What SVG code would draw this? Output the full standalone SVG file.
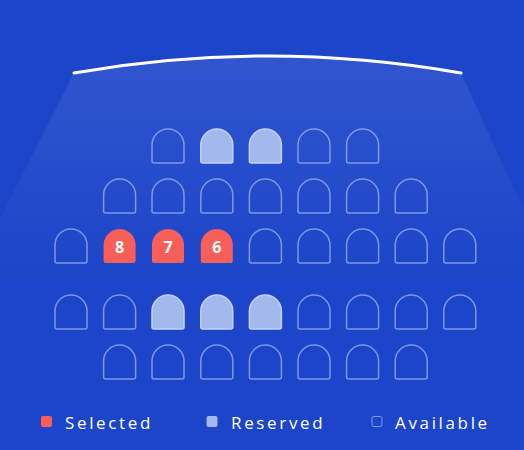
<svg xmlns="http://www.w3.org/2000/svg" width="524" height="450" viewBox="0 0 524 450">
<defs>
<linearGradient id="cone" gradientUnits="userSpaceOnUse" x1="0" y1="56" x2="0" y2="290">
<stop offset="0" stop-color="#ffffff" stop-opacity="0.09"/>
<stop offset="0.6" stop-color="#ffffff" stop-opacity="0.03"/>
<stop offset="1" stop-color="#ffffff" stop-opacity="0"/>
</linearGradient>
<path id="seat" d="M0,16 A16,16 0 0 1 32,16 V32 Q32,34 30,34 H2 Q0,34 0,32 Z"/>
</defs>
<style>
.av{fill:none;stroke:#9db3f0;stroke-opacity:0.75;stroke-width:1.5}
.rs{fill:#a3b8ec;stroke:#c3d1f5;stroke-width:1.5}
.sel{fill:#f95f59}
.num{font-family:"Open Sans","Noto Sans",sans-serif;font-weight:700;font-size:16px;fill:#ffffff;text-anchor:middle}
.lg{font-family:"Open Sans","Noto Sans",sans-serif;font-size:17px;font-weight:500;fill:#ffffff;letter-spacing:2.65px}
</style>
<rect width="524" height="450" fill="#1c45c9"/>
<path d="M74,73 Q267,39 461,73 L560,290 L-36,290 Z" fill="url(#cone)"/>
<path d="M74,73 Q267,39 461,73" fill="none" stroke="#ffffff" stroke-width="3" stroke-linecap="round"/>
<g id="row1">
<use href="#seat" x="152" y="129" class="av"/>
<use href="#seat" x="200.8" y="129" class="rs"/>
<use href="#seat" x="249.4" y="129" class="rs"/>
<use href="#seat" x="298" y="129" class="av"/>
<use href="#seat" x="346.6" y="129" class="av"/>
</g>
<g id="row2">
<use href="#seat" x="103.6" y="179" class="av"/>
<use href="#seat" x="152" y="179" class="av"/>
<use href="#seat" x="200.8" y="179" class="av"/>
<use href="#seat" x="249.4" y="179" class="av"/>
<use href="#seat" x="298" y="179" class="av"/>
<use href="#seat" x="346.6" y="179" class="av"/>
<use href="#seat" x="395.2" y="179" class="av"/>
</g>
<g id="row3">
<use href="#seat" x="55" y="229" class="av"/>
<g id="seat8"><use href="#seat" x="103.6" y="229" class="sel"/><text x="119.6" y="253" class="num">8</text></g>
<g id="seat7"><use href="#seat" x="152" y="229" class="sel"/><text x="168" y="253" class="num">7</text></g>
<g id="seat6"><use href="#seat" x="200.8" y="229" class="sel"/><text x="216.8" y="253" class="num">6</text></g>
<use href="#seat" x="249.4" y="229" class="av"/>
<use href="#seat" x="298" y="229" class="av"/>
<use href="#seat" x="346.6" y="229" class="av"/>
<use href="#seat" x="395.2" y="229" class="av"/>
<use href="#seat" x="443.8" y="229" class="av"/>
</g>
<g id="row4">
<use href="#seat" x="55" y="295" class="av"/>
<use href="#seat" x="103.6" y="295" class="av"/>
<use href="#seat" x="152" y="295" class="rs"/>
<use href="#seat" x="200.8" y="295" class="rs"/>
<use href="#seat" x="249.4" y="295" class="rs"/>
<use href="#seat" x="298" y="295" class="av"/>
<use href="#seat" x="346.6" y="295" class="av"/>
<use href="#seat" x="395.2" y="295" class="av"/>
<use href="#seat" x="443.8" y="295" class="av"/>
</g>
<g id="row5">
<use href="#seat" x="103.6" y="345" class="av"/>
<use href="#seat" x="152" y="345" class="av"/>
<use href="#seat" x="200.8" y="345" class="av"/>
<use href="#seat" x="249.4" y="345" class="av"/>
<use href="#seat" x="298" y="345" class="av"/>
<use href="#seat" x="346.6" y="345" class="av"/>
<use href="#seat" x="395.2" y="345" class="av"/>
</g>
<g id="legend">
<rect x="41" y="416" width="11" height="11" rx="2" fill="#f95f59"/>
<text x="65" y="429" class="lg">Selected</text>
<rect x="206.5" y="416" width="11" height="11" rx="2" fill="#a3b8ec"/>
<text x="231" y="429" class="lg">Reserved</text>
<rect x="372" y="416.5" width="10" height="10" rx="2" fill="none" stroke="#9db3f0" stroke-opacity="0.75" stroke-width="1"/>
<text x="395" y="429" class="lg">Available</text>
</g>
</svg>
